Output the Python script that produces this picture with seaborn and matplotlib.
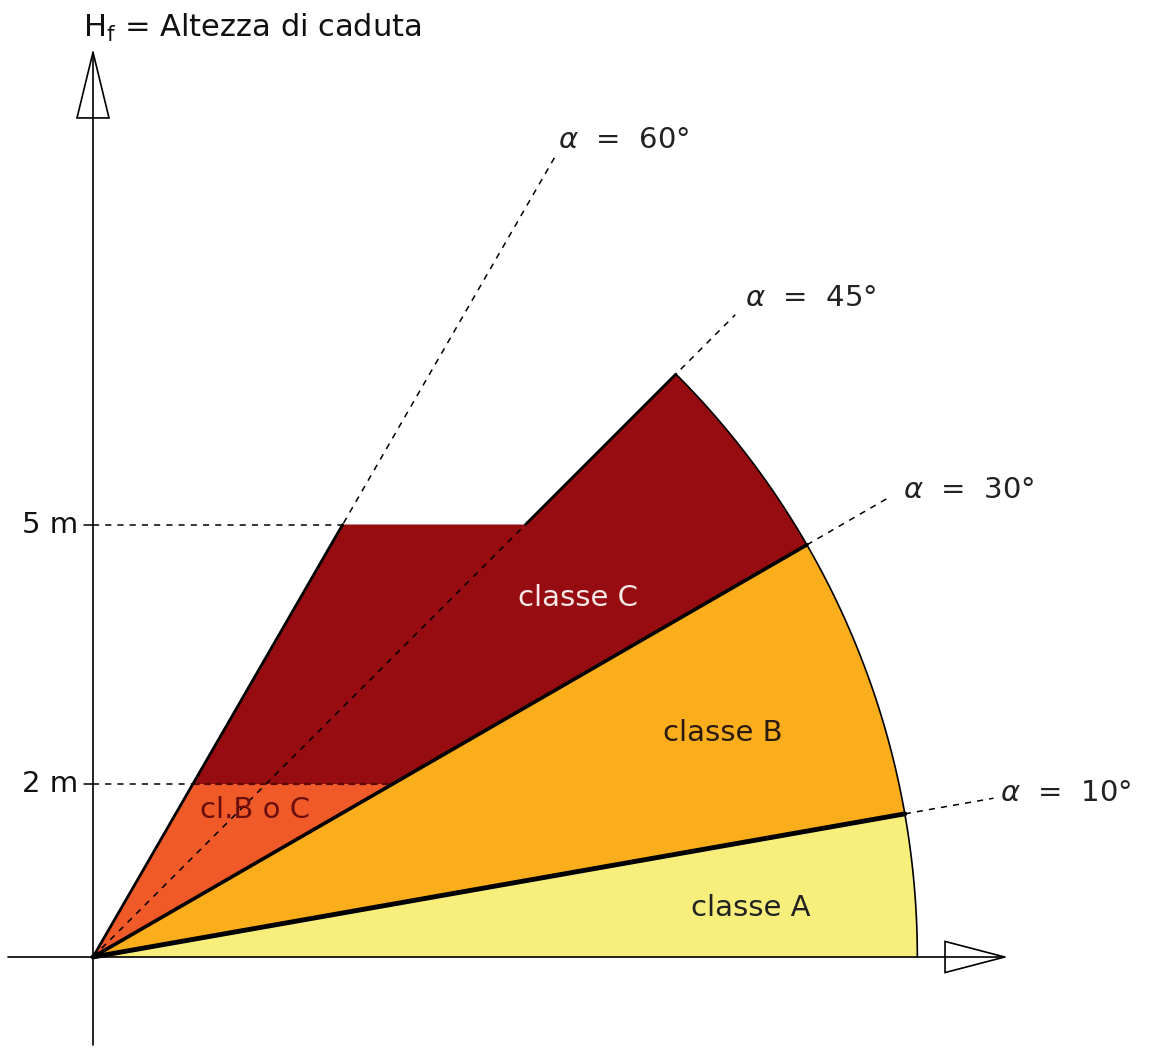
import numpy as np
import pandas as pd
import matplotlib
matplotlib.use("Agg")
import matplotlib.pyplot as plt
import seaborn as sns

# ---- data (metres / degrees) ----
angles_deg = [10, 30, 45, 60]
angle_labels = [r"$\alpha$  =  10°", r"$\alpha$  =  30°", r"$\alpha$  =  45°", r"$\alpha$  =  60°"]
height_marks = [2, 5]
height_labels = ["2 m", "5 m"]
radius_m = 9.53
guide_len_m = [10.57, 10.63, 10.5, 10.67]
class_names = ["classe A", "classe B", "classe C", "cl.B o C"]
title_text = r"H$_\mathregular{f}$ = Altezza di caduta"

sns.set_theme(style="white")
plt.rcParams['font.family'] = ['DejaVu Sans']

PX = 86.5
fig = plt.figure(figsize=(11.5, 10.55), dpi=100)
ax = fig.add_axes([0, 0, 1, 1])
ax.set_xlim(-93 / PX, (1150 - 93) / PX)
ax.set_ylim(-(1055 - 957) / PX, 957 / PX)
ax.set_aspect("equal")
ax.axis("off")

def pol(r, a):
    t = np.radians(a)
    return r * np.cos(t), r * np.sin(t)

def arc(a0, a1, r=radius_m, n=80):
    t = np.linspace(a0, a1, n)
    return list(zip(*pol(r, t)))

a10, a30, a45, a60 = angles_deg
h2, h5 = height_marks
R = radius_m

col_A = "#F8EE7C"
col_B = "#FBAE1B"
col_C = "#960C10"
col_BC = "#F05A28"

# class A
pts = [(0, 0)] + arc(0, a10)
ax.fill(*zip(*pts), color=col_A, lw=0, zorder=1)
# class B
pts = [(0, 0)] + arc(a10, a30)
ax.fill(*zip(*pts), color=col_B, lw=0, zorder=1)
# class C
x30_2 = h2 / np.tan(np.radians(a30))
x60_2 = h2 / np.tan(np.radians(a60))
x60_5 = h5 / np.tan(np.radians(a60))
x45_5 = h5 / np.tan(np.radians(a45))
pts = [(x30_2, h2)] + arc(a30, a45) + [(x45_5, h5), (x60_5, h5), (x60_2, h2)]
ax.fill(*zip(*pts), color=col_C, lw=0, zorder=1)
# cl.B o C
pts = [(0, 0), (x30_2, h2), (x60_2, h2)]
ax.fill(*zip(*pts), color=col_BC, lw=0, zorder=1)

# dashed guides (rays)
rows = []
for a, L in zip(angles_deg, guide_len_m):
    r0 = 0 if a in (a45, a60) else R
    for r in (r0, L):
        x, y = pol(r, a)
        rows.append(dict(ray=str(a), x=x, y=y))
rays = pd.DataFrame(rows)
sns.lineplot(data=rays, x="x", y="y", units="ray", estimator=None, sort=False,
             color="black", lw=1.1, dashes=False, ax=ax, zorder=2)
for line in ax.lines:
    line.set_dashes((4, 4))

# horizontal height guides
for h, xe in zip(height_marks, [x60_2, x60_5]):
    ax.plot([0, xe], [h, h], color="black", lw=1.1, dashes=(4, 4), zorder=2)
    ax.plot([-0.1, 0], [h, h], color="black", lw=1.1, zorder=3)
ax.plot([x60_2, x30_2], [h2, h2], color="#5a0808", lw=1.6, dashes=(3, 2), zorder=3)

# solid boundaries
ax.plot(*zip((0, 0), pol(R, a10)), color="black", lw=3.5, zorder=4, solid_capstyle="round")
ax.plot(*zip((0, 0), pol(R, a30)), color="black", lw=2.6, zorder=4)
ax.plot([0, x60_5], [0, h5], color="black", lw=2.0, zorder=4)
ax.plot(*zip((x45_5, h5), pol(R, a45)), color="black", lw=2.0, zorder=4)
ax.plot(*zip(*arc(0, a45)), color="black", lw=1.2, zorder=4)

# axes with open arrows
ax.plot([0, 0], [-1.02, 10.46], color="black", lw=1.2, zorder=5)
ax.plot([-0.98, 10.54], [0, 0], color="black", lw=1.2, zorder=5)
ax.fill([0, -0.185, 0.185], [10.46, 9.70, 9.70], facecolor="white", edgecolor="black", lw=1.2, zorder=6)
ax.plot([0, 0], [9.70, 10.4], color="black", lw=1.2, zorder=7)
ax.fill([10.54, 9.85, 9.85], [0, 0.18, -0.18], facecolor="white", edgecolor="black", lw=1.2, zorder=6)
ax.plot([9.85, 10.5], [0, 0], color="black", lw=1.2, zorder=7)

# texts
fs = 21
ax.text(-0.12, 10.74, title_text, fontsize=fs + 1, ha="left", va="center", color="#111111")
for h, lab in zip(height_marks, height_labels):
    ax.text(-0.17, h, lab, fontsize=fs, ha="right", va="center", color="#111111")
lab_pos = [(10.49, 1.90), (9.36, 5.40), (7.54, 7.62), (5.38, 9.45)]
for (x, y), lab in zip(lab_pos, angle_labels):
    ax.text(x, y, lab, fontsize=fs, ha="left", va="center", color="#222222")

cls_pos = [(7.60, 0.57), (7.28, 2.59), (5.61, 4.15), (1.87, 1.70)]
cls_col = ["#222222", "#2a1a10", "#f7e8e8", "#6b0d0d"]
for (x, y), lab, c in zip(cls_pos, class_names, cls_col):
    ax.text(x, y, lab, fontsize=fs, ha="center", va="center", color=c, zorder=8)

fig.savefig("out.png", dpi=100, facecolor="white")
